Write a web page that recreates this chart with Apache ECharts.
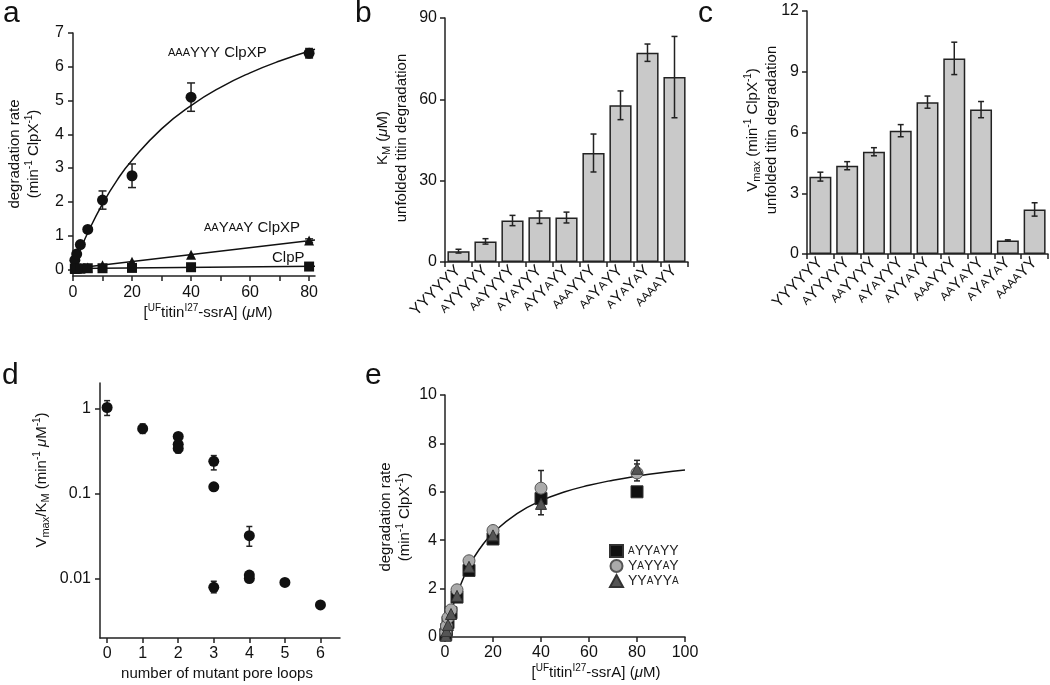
<!DOCTYPE html>
<html><head><meta charset="utf-8">
<script src="https://cdn.jsdelivr.net/npm/echarts@6/dist/echarts.min.js"></script>
<style>html,body{margin:0;padding:0;background:#fff}#c{width:1050px;height:685px}</style>
</head><body><div id="c"></div>
<script>
const FONT = '"Liberation Sans", Arial, Helvetica, sans-serif';

// ---------- Panel a ----------
const concA = [0.625, 1.25, 2.5, 5, 10, 20, 40, 80];
const rateAAAYYY = [0.27, 0.45, 0.73, 1.18, 2.05, 2.77, 5.10, 6.40];
const errAAAYYY  = [0, 0, 0, 0, 0.27, 0.35, 0.42, 0.14];
const rateAAYAAY = [0.01, 0.02, 0.03, 0.05, 0.12, 0.22, 0.43, 0.85];
const errAAYAAY  = [0, 0, 0, 0, 0, 0, 0, 0.05];
const rateClpP   = [0.02, 0.02, 0.02, 0.03, 0.03, 0.04, 0.06, 0.08];
const fitAX      = [0, 2.5, 5, 10, 15, 20, 30, 40, 50, 60, 70, 82];
const fitAAAYYY  = [0, 0.57, 1.08, 1.94, 2.65, 3.23, 4.16, 4.85, 5.39, 5.82, 6.17, 6.52];
const fitAX2     = [0, 82];
const fitAAYAAY  = [0.02, 0.87];
const fitClpP    = [0.02, 0.09];
const ticksAX    = [0, 10, 20, 30, 40, 50, 60, 70, 80];
const labelsAX   = [0, 20, 40, 60, 80];
const ticksAY    = [0, 1, 2, 3, 4, 5, 6, 7];

// ---------- Panels b, c ----------
const variants = ['YYYYYY', 'AYYYYY', 'AAYYYY', 'AYAYYY', 'AYYAYY', 'AAAYYY', 'AAYAYY', 'AYAYAY', 'AAAAYY'];
const kmValues  = [4.0, 7.6, 15.3, 16.5, 16.4, 40.2, 57.8, 77.2, 68.2];
const kmErr     = [0.7, 1.0, 1.9, 2.3, 2.0, 7.0, 5.3, 3.2, 15.0];
const vmaxValues = [3.82, 4.36, 5.05, 6.09, 7.50, 9.66, 7.13, 0.67, 2.20];
const vmaxErr    = [0.22, 0.20, 0.20, 0.30, 0.30, 0.80, 0.40, 0.03, 0.33];

// ---------- Panel d ----------
const loops  = [0, 1, 2, 2, 2, 3, 3, 3, 4, 4, 4, 5, 6];
const ratio  = [1.03, 0.58, 0.47, 0.38, 0.34, 0.24, 0.12, 0.0079, 0.032, 0.011, 0.010, 0.009, 0.0049];
const ratioLo = [0.83, 0.51, 0.44, 0.35, 0.30, 0.19, 0.11, 0.0068, 0.024, 0.0105, 0.0095, 0.009, 0.0049];
const ratioHi = [1.24, 0.66, 0.50, 0.41, 0.37, 0.28, 0.13, 0.0093, 0.041, 0.0115, 0.0105, 0.009, 0.0049];
const ticksDX = [0, 1, 2, 3, 4, 5, 6];
const ticksDY = [0.01, 0.1, 1];

// ---------- Panel e ----------
const concE = [0.3125, 0.625, 1.25, 2.5, 5, 10, 20, 40, 80];
const rateAYYAYY = [0.10, 0.30, 0.60, 1.00, 1.65, 2.75, 4.05, 5.72, 6.00];
const rateYAYYAY = [0.20, 0.45, 0.80, 1.12, 1.95, 3.15, 4.40, 6.15, 6.78];
const rateYYAYYA = [0.05, 0.25, 0.50, 0.95, 1.70, 2.90, 4.20, 5.50, 6.95];
const errE = [ // [x, low, high]
  [40, 5.52, 5.92], [80, 5.85, 6.15],
  [40, 5.42, 6.88], [80, 6.45, 7.15],
  [40, 5.05, 5.90], [80, 6.60, 7.30]
];
const fitEX = [0, 1, 2.5, 5, 10, 15, 20, 30, 40, 50, 60, 70, 80, 90, 100];
const fitE  = [0, 0.43, 1.0, 1.78, 2.92, 3.72, 4.30, 5.10, 5.63, 6.00, 6.27, 6.48, 6.65, 6.79, 6.90];

// ---------- helpers ----------
const pairs = (xs, ys) => xs.map((x, i) => [x, ys[i]]);
const errPairs = (xs, ys, es) => xs.map((x, i) => [x, ys[i] - es[i], ys[i] + es[i]]).filter((d, i) => es[i] > 0);
const sc = s => s.replace(/A/g, '{s|A}');
const AX = '#222';
const richSmall = { s: { fontSize: 11.5, verticalAlign: 'middle', fontFamily: FONT, color: '#111' } };

function errRender(capW) {
  return function (params, api) {
    const x = api.value(0);
    const p1 = api.coord([x, api.value(1)]);
    const p2 = api.coord([x, api.value(2)]);
    const st = { stroke: '#222', lineWidth: 1.5 };
    return { type: 'group', children: [
      { type: 'line', shape: { x1: p1[0], y1: p1[1], x2: p2[0], y2: p2[1] }, style: st },
      { type: 'line', shape: { x1: p1[0] - capW, y1: p1[1], x2: p1[0] + capW, y2: p1[1] }, style: st },
      { type: 'line', shape: { x1: p2[0] - capW, y1: p2[1], x2: p2[0] + capW, y2: p2[1] }, style: st }
    ]};
  };
}

function valAxis(extra) {
  return Object.assign({
    type: 'value',
    axisLine: { show: true, onZero: false, lineStyle: { color: AX, width: 1.5 } },
    axisTick: { show: true, length: 5, lineStyle: { color: AX, width: 1.5 } },
    axisLabel: { color: '#111', fontSize: 16, fontFamily: FONT, margin: 8 },
    splitLine: { show: false }
  }, extra);
}
function catAxis(extra) {
  return Object.assign({
    type: 'category', data: variants,
    axisLine: { show: true, lineStyle: { color: AX, width: 1.5 } },
    axisTick: { show: true, length: 5, interval: 0, alignWithLabel: false, lineStyle: { color: AX, width: 1.5 } },
    axisLabel: { interval: 0, rotate: 45, margin: 6, color: '#111', fontSize: 16, lineHeight: 18, fontFamily: FONT,
      formatter: v => sc(v), rich: richSmall },
    splitLine: { show: false }
  }, extra);
}

const gRich = {
  s: { fontSize: 11, verticalAlign: 'middle', fontFamily: FONT, fill: '#111' },
  sup: { fontSize: 10, lineHeight: 10, verticalAlign: 'top', fontFamily: FONT, fill: '#111' },
  sub: { fontSize: 11, lineHeight: 11, verticalAlign: 'bottom', fontFamily: FONT, fill: '#111' },
  it: { fontStyle: 'italic', fontSize: 15, fontFamily: FONT, fill: '#111' }
};
function gtext(x, y, text, size, align, rotate) {
  const el = {
    type: 'text', x: x, y: y,
    style: { text: text, fontSize: size, fontFamily: FONT, fill: '#111', align: align || 'left',
      verticalAlign: 'middle', lineHeight: size + 4, rich: gRich }
  };
  if (rotate) el.rotation = Math.PI / 2;
  return el;
}

const chart = echarts.init(document.getElementById('c'), null, { renderer: 'canvas' });
chart.setOption({
  animation: false,
  backgroundColor: '#fff',
  grid: [
    { left: 73, top: 33, width: 242, height: 243 },
    { left: 445, top: 18, width: 243, height: 244 },
    { left: 807, top: 11, width: 241, height: 243 },
    { left: 100, top: 383, width: 240, height: 255 },
    { left: 445, top: 395, width: 240, height: 242 }
  ],
  xAxis: [
    valAxis({ gridIndex: 0, min: 0, max: 82,
      axisTick: { show: true, length: 5, customValues: ticksAX, lineStyle: { color: AX, width: 1.5 } },
      axisLabel: { color: '#111', fontSize: 16, fontFamily: FONT, margin: 9, customValues: labelsAX } }),
    catAxis({ gridIndex: 1 }),
    catAxis({ gridIndex: 2 }),
    valAxis({ gridIndex: 3, min: -0.2, max: 6.55,
      axisTick: { show: true, length: 5, customValues: ticksDX, lineStyle: { color: AX, width: 1.5 } },
      axisLabel: { color: '#111', fontSize: 16, fontFamily: FONT, margin: 8, customValues: ticksDX } }),
    valAxis({ gridIndex: 4, min: 0, max: 100, interval: 20,
      axisLabel: { color: '#111', fontSize: 16, fontFamily: FONT, margin: 8 } })
  ],
  yAxis: [
    valAxis({ gridIndex: 0, min: -0.2, max: 7,
      axisTick: { show: true, length: 5, customValues: ticksAY, lineStyle: { color: AX, width: 1.5 } },
      axisLabel: { color: '#111', fontSize: 16, fontFamily: FONT, margin: 9, customValues: ticksAY } }),
    valAxis({ gridIndex: 1, min: 0, max: 90, interval: 30 }),
    valAxis({ gridIndex: 2, min: 0, max: 12, interval: 3 }),
    valAxis({ gridIndex: 3, type: 'log', logBase: 10, min: 0.002, max: 2,
      axisTick: { show: true, length: 5, customValues: ticksDY, lineStyle: { color: AX, width: 1.5 } },
      axisLabel: { color: '#111', fontSize: 16, fontFamily: FONT, margin: 9, customValues: ticksDY, formatter: v => String(v) } }),
    valAxis({ gridIndex: 4, min: 0, max: 10, interval: 2 })
  ],
  legend: {
    data: ['AYYAYY', 'YAYYAY', 'YYAYYA'],
    left: 604, top: 539, orient: 'vertical', itemGap: 1, itemWidth: 13, itemHeight: 12,
    selectedMode: false,
    formatter: n => sc(n),
    textStyle: { fontSize: 14, lineHeight: 13, color: '#222', fontFamily: FONT,
      rich: { s: { fontSize: 10, verticalAlign: 'middle', color: '#222', fontFamily: FONT } } }
  },
  graphic: [
    gtext(3, 14, 'a', 30),
    gtext(355, 14, 'b', 30),
    gtext(698, 14, 'c', 30),
    gtext(2, 376, 'd', 30),
    gtext(365, 376, 'e', 30),
    gtext(168, 53, sc('AAAYYY') + ' ClpXP', 15),
    gtext(204, 228, sc('AAYAAY') + ' ClpXP', 15),
    gtext(272, 258, 'ClpP', 15),
    gtext(24, 154, 'degradation rate\n(min{sup|-1} ClpX{sup|-1})', 15, 'center', true),
    gtext(208, 313, '[{sup|UF}titin{sup|I27}-ssrA] ({it|μ}M)', 15, 'center'),
    gtext(392, 138, 'K{sub|M} ({it|μ}M)\nunfolded titin degradation', 15, 'center', true),
    gtext(762, 130, 'V{sub|max} (min{sup|-1} ClpX{sup|-1})\nunfolded titin degradation', 15, 'center', true),
    gtext(42, 480, 'V{sub|max}/K{sub|M} (min{sup|-1} {it|μ}M{sup|-1})', 15, 'center', true),
    gtext(217, 674, 'number of mutant pore loops', 15, 'center'),
    gtext(395, 517, 'degradation rate\n(min{sup|-1} ClpX{sup|-1})', 15, 'center', true),
    gtext(596, 673, '[{sup|UF}titin{sup|I27}-ssrA] ({it|μ}M)', 15, 'center')
  ],
  series: [
    // ---- a ----
    { type: 'custom', xAxisIndex: 0, yAxisIndex: 0, z: 1, renderItem: errRender(4), encode: { x: 0, y: [1, 2] },
      data: errPairs(concA, rateAAAYYY, errAAAYYY).concat(errPairs(concA, rateAAYAAY, errAAYAAY)) },
    { type: 'line', xAxisIndex: 0, yAxisIndex: 0, z: 2, showSymbol: false, smooth: true, silent: true,
      lineStyle: { color: '#111', width: 1.5 }, data: pairs(fitAX, fitAAAYYY) },
    { type: 'line', xAxisIndex: 0, yAxisIndex: 0, z: 2, showSymbol: false, silent: true,
      lineStyle: { color: '#111', width: 1.5 }, data: pairs(fitAX2, fitAAYAAY) },
    { type: 'line', xAxisIndex: 0, yAxisIndex: 0, z: 2, showSymbol: false, silent: true,
      lineStyle: { color: '#111', width: 1.5 }, data: pairs(fitAX2, fitClpP) },
    { type: 'scatter', xAxisIndex: 0, yAxisIndex: 0, z: 3, symbol: 'circle', symbolSize: 11,
      itemStyle: { color: '#111', opacity: 1 }, data: pairs(concA, rateAAAYYY) },
    { type: 'scatter', xAxisIndex: 0, yAxisIndex: 0, z: 3, symbol: 'triangle', symbolSize: 10,
      itemStyle: { color: '#111', opacity: 1 }, data: pairs(concA, rateAAYAAY) },
    { type: 'scatter', xAxisIndex: 0, yAxisIndex: 0, z: 3, symbol: 'rect', symbolSize: 10,
      itemStyle: { color: '#111', opacity: 1 }, data: pairs(concA, rateClpP) },
    // ---- b ----
    { type: 'bar', xAxisIndex: 1, yAxisIndex: 1, barCategoryGap: '18%', z: 2,
      itemStyle: { color: '#c9c9c9', borderColor: '#222', borderWidth: 1.5 }, data: kmValues },
    { type: 'custom', xAxisIndex: 1, yAxisIndex: 1, z: 3, renderItem: errRender(3), encode: { x: 0, y: [1, 2] },
      data: kmValues.map((v, i) => [i, v - kmErr[i], v + kmErr[i]]) },
    // ---- c ----
    { type: 'bar', xAxisIndex: 2, yAxisIndex: 2, barCategoryGap: '18%', z: 2,
      itemStyle: { color: '#c9c9c9', borderColor: '#222', borderWidth: 1.5 }, data: vmaxValues },
    { type: 'custom', xAxisIndex: 2, yAxisIndex: 2, z: 3, renderItem: errRender(3), encode: { x: 0, y: [1, 2] },
      data: vmaxValues.map((v, i) => [i, v - vmaxErr[i], v + vmaxErr[i]]) },
    // ---- d ----
    { type: 'custom', xAxisIndex: 3, yAxisIndex: 3, z: 1, renderItem: errRender(3), encode: { x: 0, y: [1, 2] },
      data: loops.map((x, i) => [x, ratioLo[i], ratioHi[i]]) },
    { type: 'scatter', xAxisIndex: 3, yAxisIndex: 3, z: 3, symbol: 'circle', symbolSize: 11,
      itemStyle: { color: '#111', opacity: 1 }, data: pairs(loops, ratio) },
    // ---- e ----
    { type: 'custom', xAxisIndex: 4, yAxisIndex: 4, z: 1, renderItem: errRender(3), encode: { x: 0, y: [1, 2] },
      data: errE },
    { type: 'line', xAxisIndex: 4, yAxisIndex: 4, z: 2, showSymbol: false, smooth: true, silent: true,
      lineStyle: { color: '#111', width: 1.5 }, data: pairs(fitEX, fitE) },
    { name: 'AYYAYY', type: 'scatter', xAxisIndex: 4, yAxisIndex: 4, z: 3, symbol: 'rect', symbolSize: 12,
      itemStyle: { color: '#111', borderColor: '#333', borderWidth: 1, opacity: 1 }, data: pairs(concE, rateAYYAYY) },
    { name: 'YAYYAY', type: 'scatter', xAxisIndex: 4, yAxisIndex: 4, z: 4, symbol: 'circle', symbolSize: 12,
      itemStyle: { color: '#aaaaaa', borderColor: '#555', borderWidth: 1, opacity: 1 }, data: pairs(concE, rateYAYYAY) },
    { name: 'YYAYYA', type: 'scatter', xAxisIndex: 4, yAxisIndex: 4, z: 5, symbol: 'triangle', symbolSize: 11,
      itemStyle: { color: '#555555', borderColor: '#333', borderWidth: 1, opacity: 1 }, data: pairs(concE, rateYYAYYA) }
  ]
});
</script></body></html>
